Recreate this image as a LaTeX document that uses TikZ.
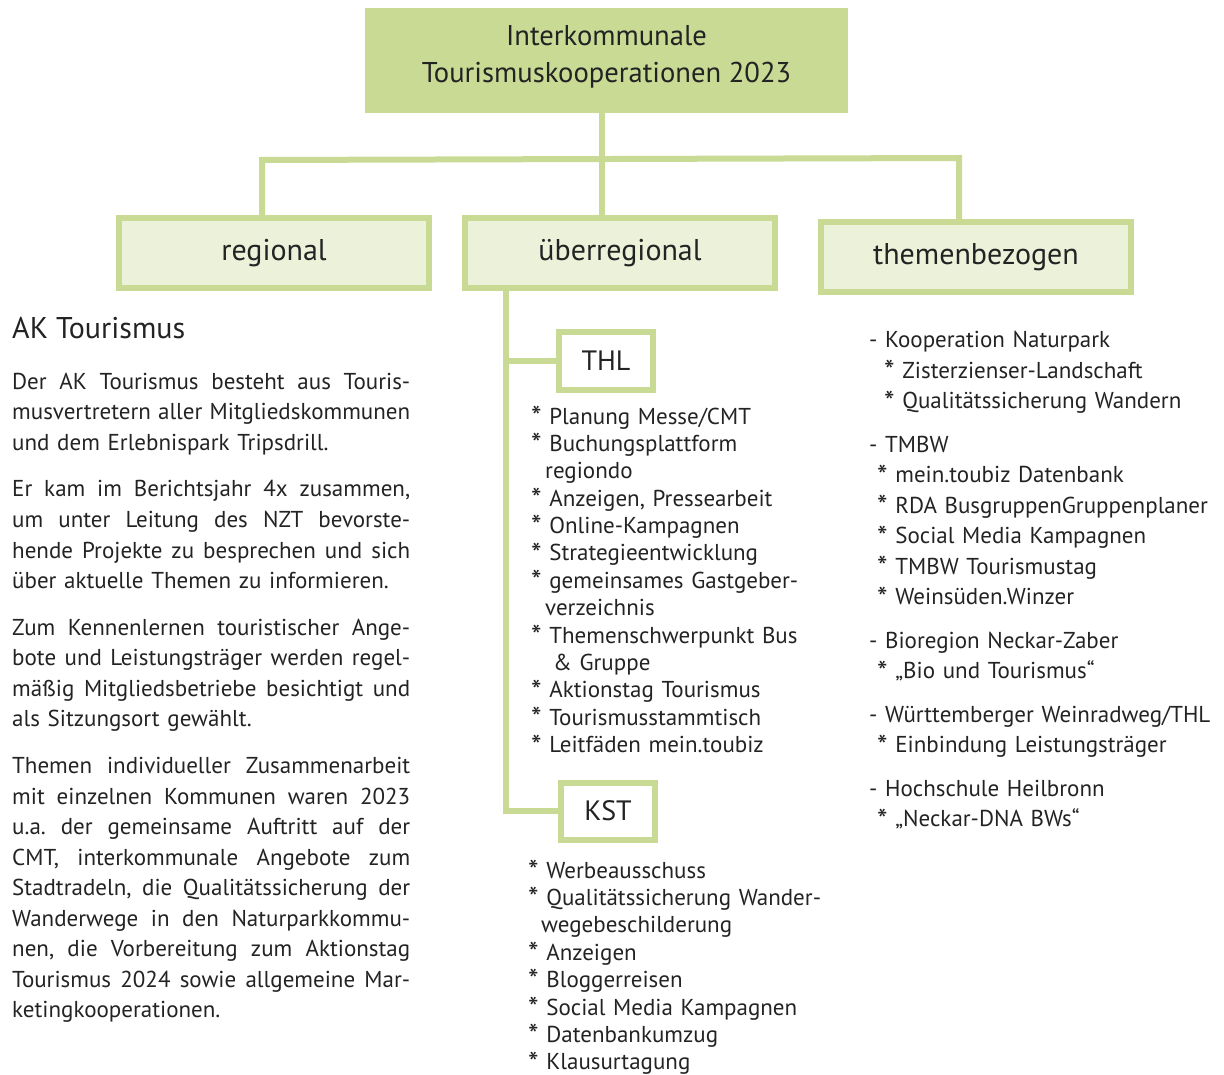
\documentclass[tikz,border=0pt]{standalone}
\usepackage{fontspec}
\usepackage{graphicx}
\setmainfont{PT Sans}
\usetikzlibrary{backgrounds}
\definecolor{gdark}{RGB}{201,218,149}
\definecolor{glight}{RGB}{236,241,218}
\definecolor{ink}{RGB}{35,35,35}
\newcommand\jl[1]{\makebox[398pt][s]{\spaceskip=\fontdimen2\font plus 1fil\relax #1}\\}
\newcommand\st{\raisebox{-0.14em}{\scalebox{1.3}{*}}}
\frenchspacing
\begin{document}
\begin{tikzpicture}[x=1pt,y=-1pt,
  conn/.style={draw=gdark,line width=6pt,line join=miter},
  titlebox/.style={fill=gdark,minimum width=483pt,minimum height=105pt,inner sep=0pt,align=center,text=ink,font=\fontsize{28.6}{37}\selectfont},
  catbox/.style={draw=gdark,line width=6pt,fill=glight,minimum width=310pt,minimum height=70pt,inner sep=0pt,text=ink,font=\fontsize{30}{34}\selectfont},
  subbox/.style={draw=gdark,line width=6pt,fill=white,minimum width=94pt,minimum height=57pt,inner sep=0pt,text=ink,font=\fontsize{28}{33}\selectfont},
  txt/.style={anchor=base west,inner sep=0pt,align=left,text=ink}
]
\useasboundingbox (0,0) rectangle (1224,1075);

\node[titlebox] (top) at (606.5,60.5) {Interkommunale\\Tourismuskooperationen 2023\rule[-13pt]{0pt}{1pt}};
\node[catbox] (regional) at (274,253) {regional};
\node[catbox] (ueber) at (620,253) {überregional};
\node[catbox] (them) at (976,257) {themenbezogen};
\node[subbox] (thl) at (606,361) {THL};
\node[subbox] (kst) at (608,811) {KST};

\coordinate (bus) at (602,159);
\coordinate (busL) at (262,160);
\coordinate (busR) at (959,158);
\coordinate (trunk) at (506,0);

\begin{scope}[on background layer]
\draw[conn] (top.south -| bus) -- (ueber.north -| bus);
\draw[conn] (busL |- regional.north) -- (busL) -- (busR) -- (busR |- them.north);
\draw[conn] (ueber.south -| trunk) |- (kst.west);
\draw[conn] (trunk |- thl.west) -- (thl.west);
\end{scope}

\node[txt,font=\fontsize{30}{35}\selectfont] (akhead) at (12,339) {AK Tourismus};

\node[txt,text width=398pt,font=\fontsize{23}{30.5}\selectfont] (akbody) at (12,389) {%
\jl{Der AK Tourismus besteht aus Touris-}
\jl{musvertretern aller Mitgliedskommunen}
und dem Erlebnispark Tripsdrill.\\[16.5pt]
\jl{Er kam im Berichtsjahr 4x zusammen,}
\jl{um unter Leitung des NZT bevorste-}
\jl{hende Projekte zu besprechen und sich}
über aktuelle Themen zu informieren.\\[16.5pt]
\jl{Zum Kennenlernen touristischer Ange-}
\jl{bote und Leistungsträger werden regel-}
\jl{mäßig Mitgliedsbetriebe besichtigt und}
als Sitzungsort gewählt.\\[16.5pt]
\jl{Themen individueller Zusammenarbeit}
\jl{mit einzelnen Kommunen waren 2023}
\jl{u.a. der gemeinsame Auftritt auf der}
\jl{CMT, interkommunale Angebote zum}
\jl{Stadtradeln, die Qualitätssicherung der}
\jl{Wanderwege in den Naturparkkommu-}
\jl{nen, die Vorbereitung zum Aktionstag}
\jl{Tourismus 2024 sowie allgemeine Mar-}
ketingkooperationen.};

\node[txt,text width=320pt,font=\fontsize{23}{27.4}\selectfont] (thllist) at (531,424) {%
\st{} Planung Messe/CMT\\
\st{} Buchungsplattform\\
\hspace*{14pt}regiondo\\
\st{} Anzeigen, Pressearbeit\\
\st{} Online-Kampagnen\\
\st{} Strategieentwicklung\\
\st{} gemeinsames Gastgeber-\\
\hspace*{14pt}verzeichnis\\
\st{} Themenschwerpunkt Bus\\
\hspace*{22pt}\& Gruppe\\
\st{} Aktionstag Tourismus\\
\st{} Tourismusstammtisch\\
\st{} Leitfäden mein.toubiz};

\node[txt,text width=320pt,font=\fontsize{23}{27.4}\selectfont] (kstlist) at (528,878) {%
\st{} Werbeausschuss\\
\st{} Qualitätssicherung Wander-\\
\hspace*{13pt}wegebeschilderung\\
\st{} Anzeigen\\
\st{} Bloggerreisen\\
\st{} Social Media Kampagnen\\
\st{} Datenbankumzug\\
\st{} Klausurtagung};

\node[txt,text width=400pt,font=\fontsize{23}{30.5}\selectfont] (themlist) at (869,348) {%
- Kooperation Naturpark\\
\hspace*{15pt}\st{} Zisterzienser-Landschaft\\
\hspace*{15pt}\st{} Qualitätssicherung Wandern\\[13pt]
- TMBW\\
\hspace*{8pt}\st{} mein.toubiz Datenbank\\
\hspace*{8pt}\st{} RDA BusgruppenGruppenplaner\\
\hspace*{8pt}\st{} Social Media Kampagnen\\
\hspace*{8pt}\st{} TMBW Tourismustag\\
\hspace*{8pt}\st{} Weinsüden.Winzer\\[13pt]
- Bioregion Neckar-Zaber\\
\hspace*{8pt}\st{} „Bio und Tourismus“\\[13pt]
- Württemberger Weinradweg/THL\\
\hspace*{8pt}\st{} Einbindung Leistungsträger\\[13pt]
- Hochschule Heilbronn\\
\hspace*{8pt}\st{} „Neckar-DNA BWs“};
\end{tikzpicture}
\end{document}
